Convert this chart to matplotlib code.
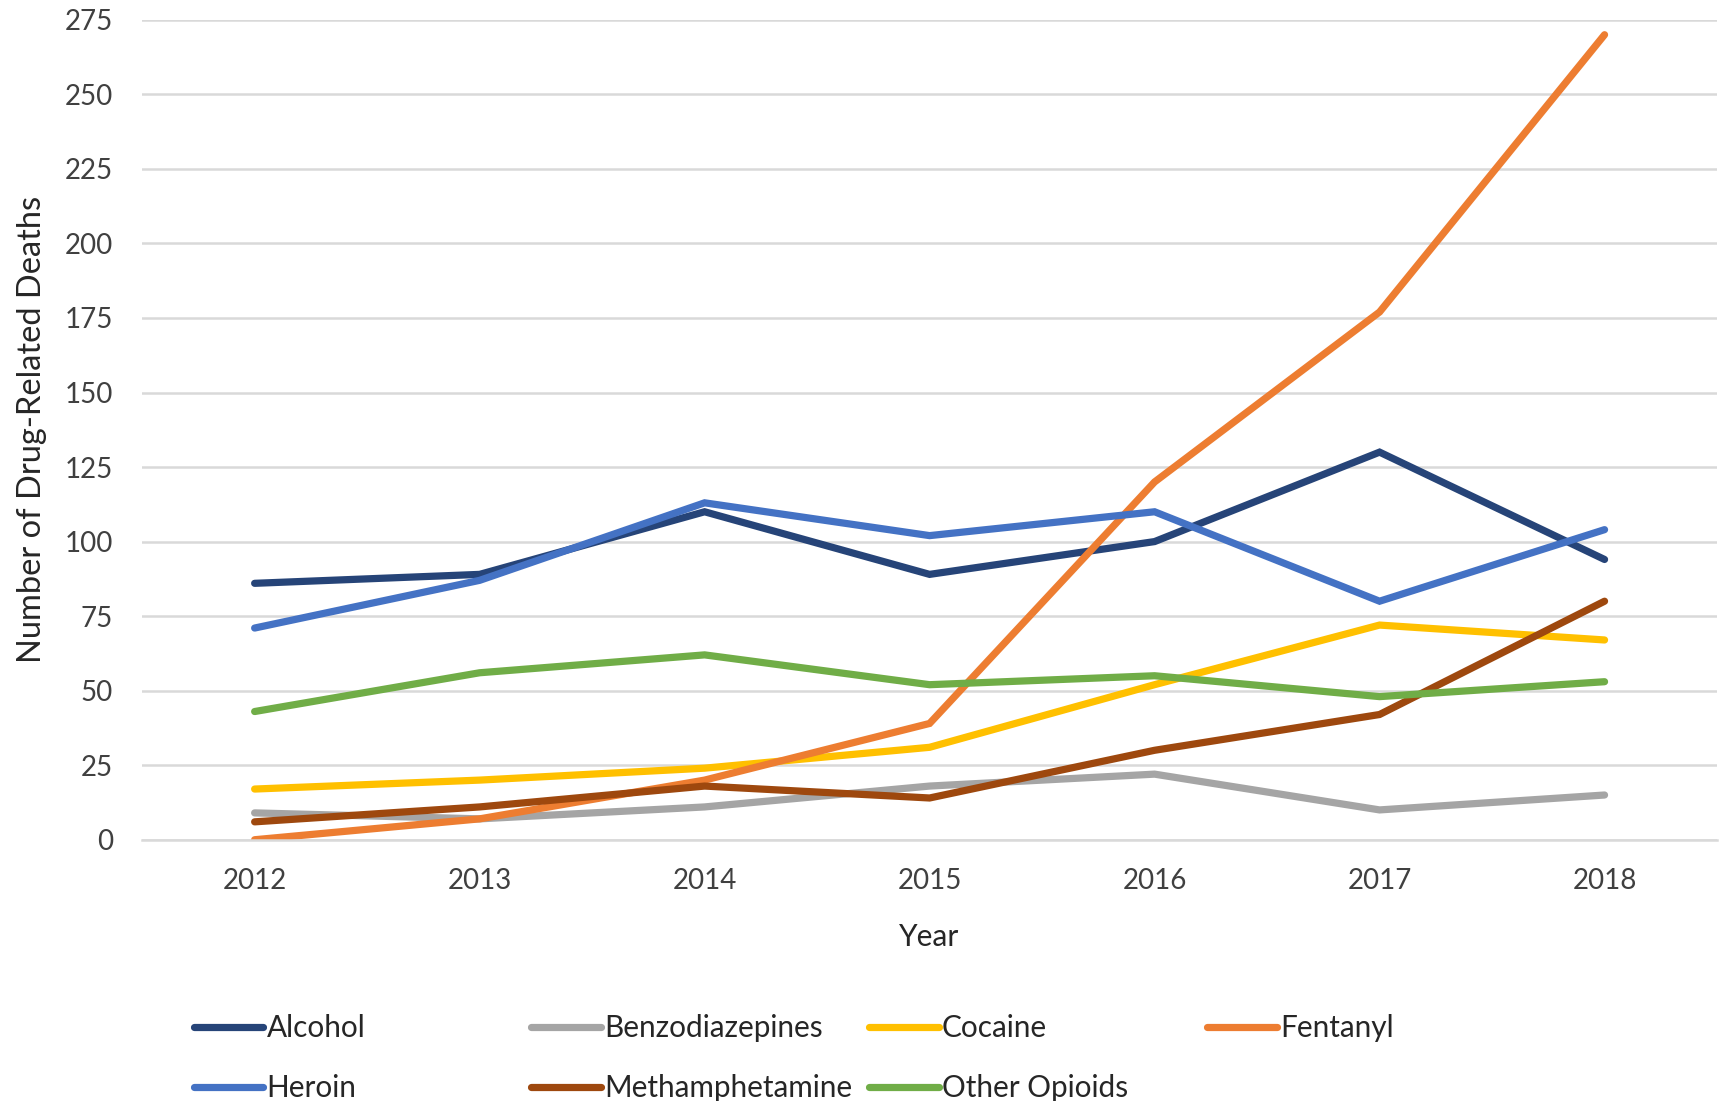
import matplotlib
matplotlib.use("Agg")
import matplotlib.pyplot as plt
from matplotlib.lines import Line2D

years = ["2012", "2013", "2014", "2015", "2016", "2017", "2018"]
alcohol = [86, 89, 110, 89, 100, 130, 94]
benzodiazepines = [9, 7, 11, 18, 22, 10, 15]
cocaine = [17, 20, 24, 31, 52, 72, 67]
fentanyl = [0, 7, 20, 39, 120, 177, 270]
heroin = [71, 87, 113, 102, 110, 80, 104]
methamphetamine = [6, 11, 18, 14, 30, 42, 80]
other_opioids = [43, 56, 62, 52, 55, 48, 53]

names = ["Alcohol", "Benzodiazepines", "Cocaine", "Fentanyl",
         "Heroin", "Methamphetamine", "Other Opioids"]
series = [alcohol, benzodiazepines, cocaine, fentanyl,
          heroin, methamphetamine, other_opioids]
colors = ["#264478", "#a5a5a5", "#ffc000", "#ed7d31",
          "#4472c4", "#9e480e", "#70ad47"]

plt.rcParams['font.family'] = ['Lato', 'DejaVu Sans']

fig = plt.figure(figsize=(17.21, 11.01), dpi=100)
ax = fig.add_axes([0.0826, 0.2373, 0.9151, 0.7447])

x = list(range(len(years)))
for name, vals, c in zip(names, series, colors):
    ax.plot(x, vals, color=c, lw=5.2, solid_capstyle="round",
            solid_joinstyle="miter", label=name)

ax.set_xlim(-0.5, len(years) - 0.5)
ax.set_ylim(0, 275)
ax.set_yticks(range(0, 276, 25))
ax.set_xticks(x)
ax.set_xticklabels(years)
ax.grid(axis="y", color="#d9d9d9", lw=1.8)
ax.set_axisbelow(True)
for s in ["top", "right", "left"]:
    ax.spines[s].set_visible(False)
ax.spines["bottom"].set_color("#d9d9d9")
ax.spines["bottom"].set_linewidth(1.8)
ax.tick_params(length=0, labelsize=20, labelcolor="#404040")
ax.tick_params(axis="y", pad=21)
ax.tick_params(axis="x", pad=20)

ax.set_xlabel("Year", fontsize=21.5, color="#262626", labelpad=21)
ax.set_ylabel("Number of Drug-Related Deaths", fontsize=23.5, color="#262626",
              labelpad=13)

# legend: four equal-width columns, two rows
cols = [[0, 4], [1, 5], [2, 6], [3]]
col_x = [0.1125, 0.3088, 0.505, 0.7013]
for idx, cx in zip(cols, col_x):
    hs = [Line2D([], [], color=colors[i], lw=5.2, solid_capstyle="round") for i in idx]
    leg = fig.legend(hs, [names[i] for i in idx], loc="upper left",
                     bbox_to_anchor=(cx, 0.079), frameon=False,
                     handlelength=2.35, handletextpad=0.1, labelspacing=1.09,
                     prop={"size": 21.4}, borderaxespad=0, borderpad=0)
    for t in leg.get_texts():
        t.set_color("#262626")

fig.savefig("out.png", dpi=100, facecolor="white")
